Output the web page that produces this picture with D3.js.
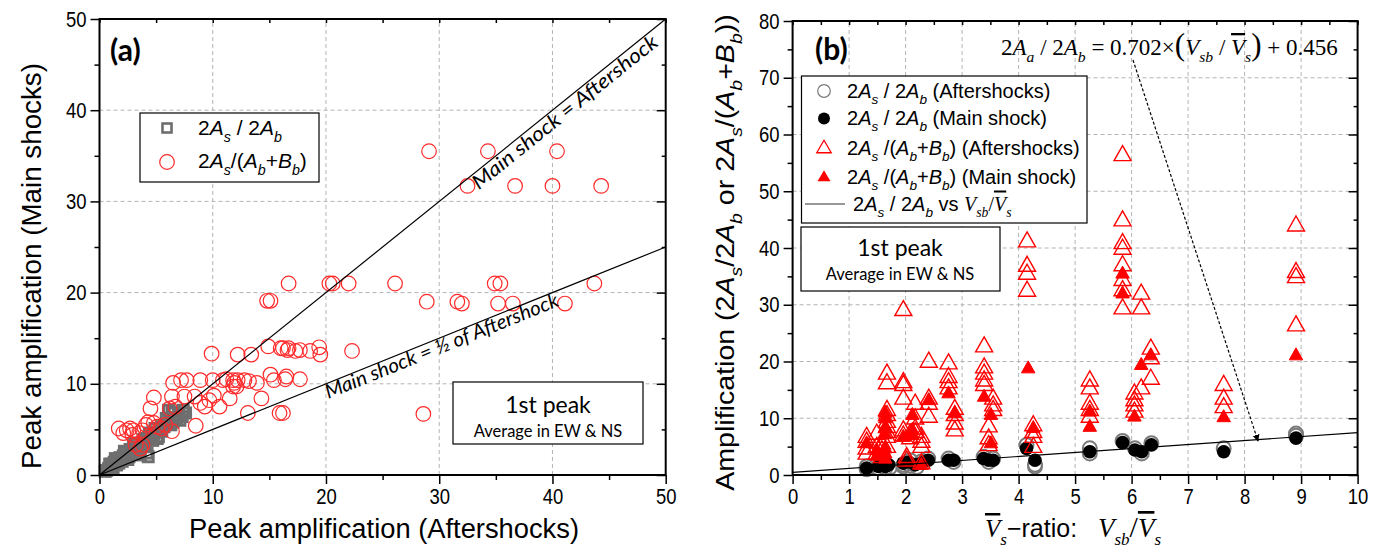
<!DOCTYPE html>
<html>
<head>
<meta charset="utf-8">
<script src="https://cdn.jsdelivr.net/npm/d3@7"></script>
<style>
  body { margin: 0; background: #fff; }
  svg { display: block; }
</style>
</head>
<body>
<svg id="chart" width="1384" height="554"></svg>
<script>
// ---------- Panel (a): main shock vs aftershock peak amplification ----------
const aMajorTicks = [0, 10, 20, 30, 40, 50];
const aMinorTicks = [5, 15, 25, 35, 45];

// 2As/2Ab (grey squares): [aftershocks, main shock]
const ratioPairs = [
  [0.5,0.4],[0.6,0.5],[0.8,0.7],[1.0,0.9],[1.1,1.2],[1.2,0.8],[1.3,1.4],[1.5,1.1],[1.5,1.6],[1.7,1.3],
  [1.8,1.9],[2.0,1.5],[2.1,2.1],[2.3,1.8],[2.4,2.4],[2.6,2.0],[2.7,2.8],[2.9,2.3],[3.0,3.1],
  [3.2,2.6],[3.3,3.4],[3.5,2.9],[3.6,2.2],[3.8,3.6],[4.0,3.2],[4.2,4.0],[4.3,2.0],[4.2,2.4],
  [4.5,4.3],[4.7,3.8],[5.0,4.7],[5.2,4.2],[5.4,5.0],[5.7,5.3],[6.0,5.6],[6.2,6.0],[6.5,5.8],
  [6.8,6.3],[7.0,6.6],[7.3,6.4],[6.6,6.8],[7.6,6.8],[5.5,4.8],[4.8,4.5],[3.9,3.9],[2.8,2.6],
  [1.9,1.7],[6.4,6.9],[6.1,7.1],[7.1,6.0],[5.5,5.3],[0.9,1.2],[1.4,1.8],[2.2,2.6],[3.1,3.5],
  [4.4,4.6],[5.9,6.2],[7.4,7.1],[3.4,2.5],[2.5,1.7],[5.1,4.0],[6.3,5.5],[4.9,5.1]
];

// 2As/(Ab+Bb) (red circles): [aftershocks, main shock]
const sumPairs = [
  [29.1,35.5],[34.3,35.5],[40.4,35.5],[32.5,31.7],[36.7,31.7],[40.0,31.7],[44.3,31.7],
  [20.3,21.0],[20.6,21.0],[22.0,21.0],[26.1,21.0],[34.9,21.0],[35.4,21.0],[43.7,21.0],[16.7,21.0],
  [28.9,19.0],[31.6,19.0],[32.0,18.8],[35.2,18.8],[36.5,18.8],[41.1,18.8],[14.8,19.1],[15.1,19.1],
  [28.6,6.7],
  [17.7,13.7],[18.6,13.6],[19.4,14.0],[19.5,13.2],[22.3,13.6],
  [9.9,13.3],[12.2,13.2],[13.4,13.2],[14.9,14.1],[16.0,13.9],[16.2,13.9],[16.7,13.9],[16.6,13.7],[17.3,13.6],
  [17.7,10.5],
  [6.5,10.1],[7.2,10.4],[7.7,10.4],[8.9,10.4],[10.0,10.4],[10.9,10.4],[11.2,10.5],[11.8,10.4],
  [12.2,10.4],[12.8,10.4],[13.2,10.3],[13.9,10.1],[15.1,11.0],[15.4,10.4],[16.4,10.5],[16.5,10.8],
  [11.9,10.1],[12.1,9.7],[11.8,9.7],
  [4.8,8.5],[6.4,8.6],[7.5,8.6],[8.4,8.6],[8.9,7.9],[9.3,7.5],[9.7,8.2],[10.1,8.7],[10.6,7.5],
  [11.5,8.4],[14.3,8.4],[6.7,7.5],[6.2,7.3],[4.5,7.3],
  [13.1,6.8],[15.9,6.8],[16.2,6.8],[8.5,5.4],
  [1.7,5.1],[2.1,4.6],[2.4,4.9],[2.7,5.1],[3.0,4.9],[2.9,4.4],[3.5,4.6],[3.8,4.9],[4.1,5.5],
  [4.3,5.8],[4.8,5.7],[5.1,5.3],[5.5,5.1],[5.8,5.5],[6.4,4.8],[3.2,3.3],[3.6,2.9],[3.8,3.3]
];

// ---------- Panel (b): amplification vs Vs-ratio ----------
const bMajorX = [0,1,2,3,4,5,6,7,8,9,10];
const bMinorX = [0.5,1.5,2.5,3.5,4.5,5.5,6.5,7.5,8.5,9.5];
const bMajorY = [0,10,20,30,40,50,60,70,80];
const bMinorY = [5,15,25,35,45,55,65,75];

// 2As/2Ab, aftershocks (open grey circles): [Vsb/Vs, amplification]
const afterRatio = [
  [1.31,1.5],[1.31,1.0],[1.52,1.2],[1.64,1.2],[1.64,1.8],[1.72,1.3],[1.96,1.8],[1.96,1.5],
  [2.08,2.6],[2.08,1.6],[2.20,1.4],[2.28,2.4],[2.40,2.9],[2.76,2.9],[2.85,2.3],[3.38,3.2],
  [3.47,2.3],[3.55,2.9],[4.14,5.3],[4.29,1.8],[4.29,1.5],[5.26,4.7],[5.26,3.8],[5.84,6.0],
  [6.06,4.7],[6.18,3.8],[6.35,5.6],[7.63,4.7],[8.91,7.3],[8.91,6.9]
];
// 2As/2Ab, main shock (black dots)
const mainRatio = [
  [1.31,1.2],[1.52,1.5],[1.64,1.5],[1.70,1.8],[1.96,2.1],[2.05,2.3],[2.17,1.8],[2.28,2.1],
  [2.40,2.6],[2.76,2.6],[2.85,2.6],[3.38,2.9],[3.47,2.6],[3.55,2.6],[4.14,4.7],[4.29,2.6],
  [5.26,4.1],[5.84,5.7],[6.06,4.4],[6.18,4.1],[6.35,5.3],[7.63,4.1],[8.91,6.5]
];
// 2As/(Ab+Bb), aftershocks (open red triangles)
const afterSum = [
  [1.31,6.75],[1.31,5.9],[1.31,4.7],[1.31,3.8],
  [1.49,7.3],[1.49,5.0],[1.49,3.8],
  [1.58,5.6],[1.58,4.4],[1.58,3.2],
  [1.67,17.9],[1.67,16.2],[1.67,11.5],[1.67,10.6],[1.67,9.4],[1.67,8.5],[1.67,7.6],[1.67,6.75],[1.67,5.0],
  [1.96,29.1],[1.96,16.4],[1.96,15.9],[1.96,13.5],[1.96,7.9],[1.96,7.0],
  [2.02,3.2],[2.02,2.6],[2.08,7.3],[2.08,6.5],
  [2.17,12.6],[2.17,10.0],[2.17,8.2],[2.17,7.6],
  [2.28,6.75],[2.28,5.9],[2.28,5.0],[2.28,2.1],
  [2.41,20.0],[2.41,13.5],[2.41,12.6],[2.41,10.3],
  [2.76,19.7],[2.76,17.3],[2.76,16.4],[2.76,15.3],
  [2.87,11.7],[2.87,10.6],[2.87,9.1],[2.87,7.9],
  [3.39,22.7],[3.39,19.0],[3.39,17.9],[3.39,16.7],[3.39,15.9],
  [3.55,13.5],[3.55,12.3],[3.55,11.5],[3.47,8.6],[3.47,6.5],[3.47,5.3],
  [4.15,41.2],[4.15,36.9],[4.15,35.5],[4.15,32.5],
  [4.26,8.8],[4.26,7.6],[4.26,6.75],[4.26,5.0],
  [5.26,16.7],[5.26,15.3],[5.26,12.6],[5.26,11.5],[5.26,10.3],
  [5.84,56.4],[5.84,44.9],[5.84,40.9],[5.84,39.9],[5.84,37.0],[5.84,34.4],[5.84,32.6],[5.84,29.4],
  [6.05,14.4],[6.05,13.2],[6.05,12.3],[6.05,11.2],
  [6.17,32.0],[6.17,29.4],[6.17,15.3],
  [6.34,22.3],[6.34,20.6],[6.34,17.0],
  [7.63,15.9],[7.63,13.5],[7.63,12.0],
  [8.91,44.0],[8.91,35.8],[8.91,34.9],[8.91,26.4]
];
// 2As/(Ab+Bb), main shock (filled red triangles)
const mainSum = [
  [1.31,5.6],[1.49,4.4],[1.49,3.4],[1.64,11.0],[1.64,10.0],[1.64,8.4],[1.64,7.2],[1.64,4.7],
  [1.64,3.8],[1.64,2.9],[1.96,6.75],[2.12,10.6],[2.12,8.0],[2.12,7.1],[2.28,1.8],[2.41,13.2],
  [2.76,14.4],[2.87,10.9],[3.39,13.8],[3.51,10.6],[3.51,5.6],[4.17,18.8],[4.26,8.3],[5.26,11.2],
  [5.26,8.5],[5.84,35.5],[5.84,32.0],[6.05,10.3],[6.17,19.4],[6.34,21.1],[7.63,10.2],[8.91,21.1]
];
// Linear fit of 2As/2Ab against Vsb/Vs
const fitSlope = 0.702, fitIntercept = 0.456;
const fitRange = [0, 10];

// ---------- shared styling ----------
const SANS = "'Liberation Sans',Arial,sans-serif";
const SERIF = "'Liberation Serif','Times New Roman',serif";
const HUM = "Lato,'Open Sans','Noto Sans',sans-serif";
const RED = "#ff2a2a";
const NARROW = 0.84;   // horizontal squeeze for the condensed sans labels

const svg = d3.select("#chart");

// Rich text: parts = [{t, i:italic, sub:subscript, f:family, s:size scale, o:overline}]
function rich(textSel, parts, size) {
  let shift = 0;
  parts.forEach(p => {
    const ts = textSel.append("tspan").text(p.t);
    const target = p.sub ? size * 0.32 : 0;
    if (target !== shift) { ts.attr("dy", target - shift); shift = target; }
    if (p.i) ts.attr("font-style", "italic");
    if (p.sub) ts.attr("font-size", size * 0.68);
    else if (p.s) ts.attr("font-size", size * p.s);
    if (p.f) ts.attr("font-family", p.f);
    if (p.o) ts.attr("text-decoration", "overline");
  });
  return textSel;
}

function drawFrame(g, x, y, xMaj, xMin, yMaj, yMin) {
  const [x0, x1] = x.range(), [y0, y1] = y.range();
  const style = sel => {
    sel.select(".domain").remove();
    sel.selectAll("line").attr("stroke", "#000").attr("stroke-width", 1.5);
    sel.selectAll("text").attr("font-family", SANS).attr("font-size", 22).attr("fill", "#000")
      .each(function () {
        const t = d3.select(this);
        const tx = +t.attr("x") || 0;
        t.attr("x", tx / NARROW).attr("transform", `scale(${NARROW},1)`);
      });
  };
  g.append("g").attr("transform", `translate(0,${y0})`)
    .call(d3.axisBottom(x).tickValues(xMaj).tickSize(9).tickPadding(4)).call(style);
  g.append("g").attr("transform", `translate(0,${y0})`)
    .call(d3.axisBottom(x).tickValues(xMin).tickSize(5).tickFormat("")).call(style);
  g.append("g").attr("transform", `translate(${x0},0)`)
    .call(d3.axisLeft(y).tickValues(yMaj).tickSize(9).tickPadding(4)).call(style);
  g.append("g").attr("transform", `translate(${x0},0)`)
    .call(d3.axisLeft(y).tickValues(yMin).tickSize(5).tickFormat("")).call(style);
  // inward ticks on the top and right edges
  g.append("g").attr("transform", `translate(0,${y1})`)
    .call(d3.axisBottom(x).tickValues(xMaj.concat(xMin)).tickSize(4).tickFormat("")).call(style);
  g.append("g").attr("transform", `translate(${x1},0)`)
    .call(d3.axisLeft(y).tickValues(yMaj).tickSize(9).tickFormat("")).call(style);
  g.append("g").attr("transform", `translate(${x1},0)`)
    .call(d3.axisLeft(y).tickValues(yMin).tickSize(4).tickFormat("")).call(style);
  g.append("rect").attr("x", x0).attr("y", y1).attr("width", x1 - x0).attr("height", y0 - y1)
    .attr("fill", "none").attr("stroke", "#000").attr("stroke-width", 2);
}

function drawGrid(g, x, y, xs, ys) {
  const [x0, x1] = x.range(), [y0, y1] = y.range();
  g.selectAll(null).data(xs).join("line")
    .attr("x1", d => x(d)).attr("x2", d => x(d)).attr("y1", y0).attr("y2", y1)
    .attr("stroke", "#b4b4b4").attr("stroke-width", 1).attr("stroke-dasharray", "4,3");
  g.selectAll(null).data(ys).join("line")
    .attr("y1", d => y(d)).attr("y2", d => y(d)).attr("x1", x0).attr("x2", x1)
    .attr("stroke", "#b4b4b4").attr("stroke-width", 1).attr("stroke-dasharray", "4,3");
}

function triPath(w, h) {
  return `M0,${-h * 0.62}L${w / 2},${h * 0.38}L${-w / 2},${h * 0.38}Z`;
}

// ================= Panel (a) =================
const xa = d3.scaleLinear([0, 50], [99.5, 665.7]);
const ya = d3.scaleLinear([0, 50], [475, 19]);
const ga = svg.append("g");

drawGrid(ga, xa, ya, [10, 20, 30, 40], [10, 20, 30, 40]);

ga.append("g").selectAll("rect").data(ratioPairs).join("rect")
  .attr("x", d => xa(d[0]) - 5).attr("y", d => ya(d[1]) - 5)
  .attr("width", 10).attr("height", 10)
  .attr("fill", "none").attr("stroke", "#6e6e6e").attr("stroke-width", 3);

ga.append("g").selectAll("circle").data(sumPairs).join("circle")
  .attr("cx", d => xa(d[0])).attr("cy", d => ya(d[1])).attr("r", 7.3)
  .attr("fill", "none").attr("stroke", RED).attr("stroke-width", 1.2);

// reference lines: main = aftershock, main = half of aftershock
const refLines = [{k: 1, label: "Main shock = Aftershock", t: 32.6, off: 16, len: 232},
                  {k: 0.5, label: "Main shock = \u00BD of Aftershock", t: 19.7, off: 15, len: 250}];
refLines.forEach(r => {
  ga.append("line").attr("x1", xa(0)).attr("y1", ya(0)).attr("x2", xa(50)).attr("y2", ya(50 * r.k))
    .attr("stroke", "#000").attr("stroke-width", 1.2);
  const ang = Math.atan2(ya(0) - ya(50 * r.k), xa(50) - xa(0)) * 180 / Math.PI;
  ga.append("text")
    .attr("transform", `translate(${xa(r.t)},${ya(r.t * r.k)}) rotate(${-ang})`)
    .attr("y", r.off).attr("font-family", HUM).attr("font-style", "italic")
    .attr("font-size", 20).attr("fill", "#000")
    .attr("textLength", r.len).attr("lengthAdjust", "spacingAndGlyphs").text(r.label);
});

drawFrame(ga, xa, ya, aMajorTicks, aMinorTicks, aMajorTicks, aMinorTicks);

ga.append("text").attr("x", 384).attr("y", 538).attr("text-anchor", "middle")
  .attr("font-family", SANS).attr("font-size", 27)
  .attr("textLength", 390).attr("lengthAdjust", "spacingAndGlyphs").text("Peak amplification (Aftershocks)");
ga.append("text").attr("transform", "translate(41,266) rotate(-90)").attr("text-anchor", "middle")
  .attr("font-family", SANS).attr("font-size", 27)
  .attr("textLength", 406).attr("lengthAdjust", "spacingAndGlyphs").text("Peak amplification (Main shocks)");

ga.append("text").attr("x", 110).attr("y", 61).attr("font-family", HUM).attr("font-weight", "bold")
  .attr("font-size", 30).text("(a)");

// legend (a)
ga.append("rect").attr("x", 140).attr("y", 113).attr("width", 179).attr("height", 69)
  .attr("fill", "#fff").attr("stroke", "#000").attr("stroke-width", 1.2);
ga.append("rect").attr("x", 162.5).attr("y", 123.5).attr("width", 9).attr("height", 9)
  .attr("fill", "none").attr("stroke", "#6e6e6e").attr("stroke-width", 2.6);
ga.append("circle").attr("cx", 167).attr("cy", 162).attr("r", 7.3)
  .attr("fill", "none").attr("stroke", RED).attr("stroke-width", 1.2);
rich(ga.append("text").attr("x", 198).attr("y", 135).attr("font-family", SANS).attr("font-size", 21),
  [{t: "2"}, {t: "A", i: 1}, {t: "s", i: 1, sub: 1}, {t: " / 2"}, {t: "A", i: 1}, {t: "b", i: 1, sub: 1}], 21);
rich(ga.append("text").attr("x", 198).attr("y", 168).attr("font-family", SANS).attr("font-size", 21),
  [{t: "2"}, {t: "A", i: 1}, {t: "s", i: 1, sub: 1}, {t: "/("}, {t: "A", i: 1}, {t: "b", i: 1, sub: 1},
   {t: "+"}, {t: "B", i: 1}, {t: "b", i: 1, sub: 1}, {t: ")"}], 21);

// "1st peak" box (a)
ga.append("rect").attr("x", 453).attr("y", 382).attr("width", 190).attr("height", 62)
  .attr("fill", "#fff").attr("stroke", "#000").attr("stroke-width", 1.2);
ga.append("text").attr("x", 548).attr("y", 413).attr("text-anchor", "middle")
  .attr("font-family", HUM).attr("font-size", 23).text("1st peak");
ga.append("text").attr("x", 548).attr("y", 437).attr("text-anchor", "middle")
  .attr("font-family", HUM).attr("font-size", 16.5).text("Average in EW & NS");

// ================= Panel (b) =================
const xb = d3.scaleLinear([0, 10], [792.6, 1357.6]);
const yb = d3.scaleLinear([0, 80], [475, 21]);
const gb = svg.append("g");

drawGrid(gb, xb, yb, d3.range(1, 10), d3.range(10, 80, 10));

gb.append("g").selectAll("circle").data(afterRatio).join("circle")
  .attr("cx", d => xb(d[0])).attr("cy", d => yb(d[1])).attr("r", 7)
  .attr("fill", "none").attr("stroke", "#7a7a7a").attr("stroke-width", 2);
gb.append("g").selectAll("circle").data(mainRatio).join("circle")
  .attr("cx", d => xb(d[0])).attr("cy", d => yb(d[1])).attr("r", 6.8).attr("fill", "#000");

gb.append("g").selectAll("path").data(afterSum).join("path")
  .attr("transform", d => `translate(${xb(d[0])},${yb(d[1])})`).attr("d", triPath(17, 15))
  .attr("fill", "none").attr("stroke", "#ff0000").attr("stroke-width", 1.4);
gb.append("g").selectAll("path").data(mainSum).join("path")
  .attr("transform", d => `translate(${xb(d[0])},${yb(d[1])})`).attr("d", triPath(13.5, 12))
  .attr("fill", "#ff0000").attr("stroke", "#ff0000").attr("stroke-width", 1);

gb.append("line")
  .attr("x1", xb(fitRange[0])).attr("y1", yb(fitSlope * fitRange[0] + fitIntercept))
  .attr("x2", xb(fitRange[1])).attr("y2", yb(fitSlope * fitRange[1] + fitIntercept))
  .attr("stroke", "#000").attr("stroke-width", 1.2);

drawFrame(gb, xb, yb, bMajorX, bMinorX, bMajorY, bMinorY);

// axis titles (b)
rich(gb.append("text").attr("x", 985).attr("y", 537).attr("font-family", SANS).attr("font-size", 25),
  [{t: "V", i: 1, f: SERIF, o: 1}, {t: "s", i: 1, sub: 1, f: SERIF}, {t: "\u2212ratio:\u00A0\u00A0\u00A0"},
   {t: "V", i: 1, f: SERIF, s: 1.08}, {t: "sb", i: 1, sub: 1, f: SERIF}, {t: "/", f: SERIF, s: 1.2},
   {t: "V", i: 1, f: SERIF, o: 1, s: 1.08}, {t: "s", i: 1, sub: 1, f: SERIF}], 25);
rich(gb.append("text").attr("transform", "translate(734,252.5) rotate(-90) scale(1.143,1)")
  .attr("text-anchor", "middle").attr("font-family", SANS).attr("font-size", 25),
  [{t: "Amplification (2"}, {t: "A", i: 1}, {t: "s", i: 1, sub: 1}, {t: "/2"}, {t: "A", i: 1},
   {t: "b", i: 1, sub: 1}, {t: " or 2"}, {t: "A", i: 1}, {t: "s", i: 1, sub: 1}, {t: "/("},
   {t: "A", i: 1}, {t: "b", i: 1, sub: 1}, {t: "+"}, {t: "B", i: 1}, {t: "b", i: 1, sub: 1}, {t: "))"}], 25);

gb.append("text").attr("x", 815).attr("y", 60).attr("font-family", HUM).attr("font-weight", "bold")
  .attr("font-size", 30).text("(b)");

// fitted equation and pointer
rich(gb.append("text").attr("x", 1001).attr("y", 55).attr("font-family", SERIF).attr("font-size", 23),
  [{t: "2"}, {t: "A", i: 1}, {t: "a", i: 1, sub: 1}, {t: " / 2"}, {t: "A", i: 1}, {t: "b", i: 1, sub: 1},
   {t: " = 0.702\u00D7"}, {t: "(", s: 1.35}, {t: "V", i: 1}, {t: "sb", i: 1, sub: 1}, {t: " / "},
   {t: "V", i: 1, o: 1}, {t: "s", i: 1, sub: 1}, {t: ")", s: 1.35}, {t: " + 0.456"}], 23);

const defs = svg.append("defs");
defs.append("marker").attr("id", "arrowHead").attr("viewBox", "0 0 10 10").attr("refX", 9).attr("refY", 5)
  .attr("markerWidth", 7).attr("markerHeight", 9).attr("markerUnits", "userSpaceOnUse").attr("orient", "auto")
  .append("path").attr("d", "M0,0L10,5L0,10Z").attr("fill", "#000");
gb.append("line").attr("x1", 1133).attr("y1", 60).attr("x2", 1258).attr("y2", 441)
  .attr("stroke", "#000").attr("stroke-width", 1.2).attr("stroke-dasharray", "3,2")
  .attr("marker-end", "url(#arrowHead)");

// legend (b)
gb.append("rect").attr("x", 801.5).attr("y", 76).attr("width", 285.5).attr("height", 147)
  .attr("fill", "#fff").attr("stroke", "#000").attr("stroke-width", 1.2);
const legY = [91, 118.5, 148, 177, 204];
gb.append("circle").attr("cx", 824).attr("cy", legY[0]).attr("r", 6.3)
  .attr("fill", "#fff").attr("stroke", "#7a7a7a").attr("stroke-width", 1.2);
gb.append("circle").attr("cx", 824).attr("cy", legY[1]).attr("r", 6).attr("fill", "#000");
gb.append("path").attr("transform", `translate(824,${legY[2]})`).attr("d", triPath(14.5, 12.5))
  .attr("fill", "#fff").attr("stroke", "#ff0000").attr("stroke-width", 1.3);
gb.append("path").attr("transform", `translate(824,${legY[3]})`).attr("d", triPath(13, 11))
  .attr("fill", "#ff0000");
gb.append("line").attr("x1", 805).attr("x2", 845).attr("y1", legY[4]).attr("y2", legY[4])
  .attr("stroke", "#333").attr("stroke-width", 1.2);

const ratioParts = [{t: "2"}, {t: "A", i: 1}, {t: "s", i: 1, sub: 1}, {t: " / 2"}, {t: "A", i: 1}, {t: "b", i: 1, sub: 1}];
const sumParts = [{t: "2"}, {t: "A", i: 1}, {t: "s", i: 1, sub: 1}, {t: " /("}, {t: "A", i: 1}, {t: "b", i: 1, sub: 1},
                  {t: "+"}, {t: "B", i: 1}, {t: "b", i: 1, sub: 1}, {t: ")"}];
const legendRows = [
  ratioParts.concat([{t: " (Aftershocks)"}]),
  ratioParts.concat([{t: " (Main shock)"}]),
  sumParts.concat([{t: " (Aftershocks)"}]),
  sumParts.concat([{t: " (Main shock)"}])
];
legendRows.forEach((parts, i) => {
  rich(gb.append("text").attr("x", 847).attr("y", legY[i] + 6.5).attr("font-family", SANS).attr("font-size", 20),
    parts, 20);
});
rich(gb.append("text").attr("x", 853).attr("y", legY[4] + 6.5).attr("font-family", SANS).attr("font-size", 20),
  ratioParts.concat([{t: " vs "}, {t: "V", i: 1, f: SERIF}, {t: "sb", i: 1, sub: 1, f: SERIF}, {t: "/", f: SERIF},
    {t: "V", i: 1, f: SERIF, o: 1}, {t: "s", i: 1, sub: 1, f: SERIF}]), 20);

// "1st peak" box (b)
gb.append("rect").attr("x", 801).attr("y", 227).attr("width", 199).attr("height", 64)
  .attr("fill", "#fff").attr("stroke", "#000").attr("stroke-width", 1.2);
gb.append("text").attr("x", 900).attr("y", 256).attr("text-anchor", "middle")
  .attr("font-family", HUM).attr("font-size", 23).text("1st peak");
gb.append("text").attr("x", 900).attr("y", 280).attr("text-anchor", "middle")
  .attr("font-family", HUM).attr("font-size", 16.5).text("Average in EW & NS");
</script>
</body>
</html>
